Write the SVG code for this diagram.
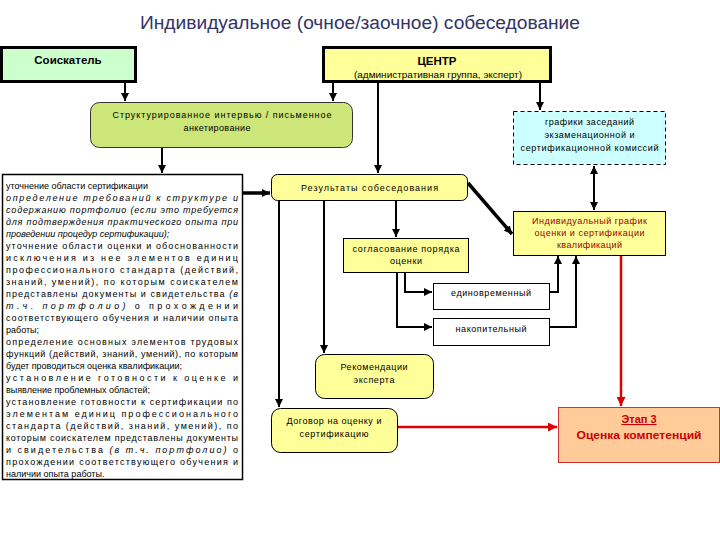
<svg xmlns="http://www.w3.org/2000/svg" width="720" height="540" viewBox="0 0 720 540">
<style>
text{font-family:"Liberation Sans",Arial,sans-serif;fill:#000}
.title{font-size:18px;fill:#333366}
.b{font-weight:bold}
.s{font-size:9px}
.c{text-anchor:middle}
.i{font-style:italic}
.thick{stroke:#000;stroke-width:3;fill:#fff}
.thin{stroke:#000;stroke-width:1}
.yel{fill:#ffff99}
.con{fill:none;stroke:#000;stroke-width:2}
.red{fill:none;stroke:#dd0000;stroke-width:2.5}
</style>
<defs>
<marker id="a" markerUnits="userSpaceOnUse" markerWidth="8" markerHeight="8" refX="8" refY="4" orient="auto"><path d="M0,0L8,4L0,8z" fill="#000"/></marker>
<marker id="as" markerUnits="userSpaceOnUse" markerWidth="8" markerHeight="8" refX="0" refY="4" orient="auto"><path d="M8,0L0,4L8,8z" fill="#000"/></marker>
<marker id="ar" markerUnits="userSpaceOnUse" markerWidth="9" markerHeight="9" refX="9" refY="4.5" orient="auto"><path d="M0,0L9,4.5L0,9z" fill="#dd0000"/></marker>
</defs>
<rect width="720" height="540" fill="#fff"/>
<text class="title c" x="360" y="29" textLength="440" lengthAdjust="spacingAndGlyphs">Индивидуальное (очное/заочное) собеседование</text>

<g id="connectors">
<path class="con" d="M125,82V101" marker-end="url(#a)"/>
<path class="con" d="M333,82V101" marker-end="url(#a)"/>
<path class="con" d="M378,82V173" marker-end="url(#a)"/>
<path class="con" d="M540,82V110" marker-end="url(#a)"/>
<path class="con" d="M162,148V173" marker-end="url(#a)"/>
<path class="con" style="stroke-width:3.5" d="M243,193H270" marker-end="url(#a)"/>
<path class="con" d="M279,201V407" marker-end="url(#a)"/>
<path class="con" d="M324,201V353" marker-end="url(#a)"/>
<path class="con" d="M396,201V237" marker-end="url(#a)"/>
<path class="con" style="stroke-width:3.5" d="M468,183L512,234" marker-end="url(#a)"/>
<path class="con" d="M405,273V292H432" marker-end="url(#a)"/>
<path class="con" d="M397,273V327H432" marker-end="url(#a)"/>
<path class="con" d="M549,292H558V256" marker-end="url(#a)"/>
<path class="con" d="M549,327H576V256" marker-end="url(#a)"/>
<path class="con" d="M594,166V210" marker-start="url(#as)" marker-end="url(#a)"/>
<path class="red" d="M621,255V406" marker-end="url(#ar)"/>
<path class="red" d="M397,427H557" marker-end="url(#ar)"/>
</g>

<g id="soiskatel">
<rect x="1.5" y="47.5" width="134" height="34" fill="#ccffcc" stroke="#000" stroke-width="3"/>
<text class="b c" x="68" y="64" font-size="11.5">Соискатель</text>
</g>

<g id="centr">
<rect x="323.5" y="47.5" width="227" height="34" fill="#ffff99" stroke="#000" stroke-width="3"/>
<text class="b c" x="437" y="65" font-size="11.5">ЦЕНТР</text>
<text class="s c" x="438" y="78" font-size="8.5" textLength="168" lengthAdjust="spacingAndGlyphs">(административная группа, эксперт)</text>
</g>

<g id="structured">
<rect x="90.5" y="102.5" width="262" height="45" rx="9" fill="#cce67a" stroke="#333" stroke-width="1"/>
<text class="s c" x="222" y="118" textLength="219" lengthAdjust="spacing">Структурированное интервью / письменное</text>
<text class="s c" x="217" y="131" textLength="67" lengthAdjust="spacing">анкетирование</text>
</g>

<g id="grafiki">
<rect x="513.5" y="111.5" width="152" height="53" fill="#ccffff" stroke="#000" stroke-width="1" stroke-dasharray="4,3"/>
<text class="s c" x="589.5" y="125" textLength="89" lengthAdjust="spacing">графики заседаний</text>
<text class="s c" x="589.5" y="138" textLength="90" lengthAdjust="spacing">экзаменационной и</text>
<text class="s c" x="589.5" y="151" textLength="138" lengthAdjust="spacing">сертификационной комиссий</text>
</g>

<g id="textbox">
<rect x="2.5" y="174.5" width="240" height="305" fill="#fff" stroke="#000" stroke-width="1.5"/>
<g class="s">
<text x="6" y="189">уточнение области сертификации</text>
<text x="6" y="201" class="i" textLength="232" lengthAdjust="spacing">определение требований к структуре и</text>
<text x="6" y="213" class="i" textLength="232" lengthAdjust="spacing">содержанию портфолио (если это требуется</text>
<text x="6" y="225" class="i" textLength="232" lengthAdjust="spacing">для подтверждения практического опыта при</text>
<text x="6" y="237" class="i">проведении процедур сертификации);</text>
<text x="6" y="249" textLength="232" lengthAdjust="spacing">уточнение области оценки и обоснованности</text>
<text x="6" y="261" textLength="232" lengthAdjust="spacing">исключения из нее элементов единиц</text>
<text x="6" y="273" textLength="232" lengthAdjust="spacing">профессионального стандарта (действий,</text>
<text x="6" y="285" textLength="232" lengthAdjust="spacing">знаний, умений), по которым соискателем</text>
<text x="6" y="297" textLength="232" lengthAdjust="spacing">представлены документы и свидетельства <tspan class="i">(в</tspan></text>
<text x="6" y="309" textLength="232" lengthAdjust="spacing"><tspan class="i">т.ч. портфолио)</tspan> о прохождении</text>
<text x="6" y="321" textLength="232" lengthAdjust="spacing">соответствующего обучения и наличии опыта</text>
<text x="6" y="333">работы;</text>
<text x="6" y="345" textLength="232" lengthAdjust="spacing">определение основных элементов трудовых</text>
<text x="6" y="357" textLength="232" lengthAdjust="spacing">функций (действий, знаний, умений), по которым</text>
<text x="6" y="369">будет проводиться оценка квалификации;</text>
<text x="6" y="381" textLength="232" lengthAdjust="spacing">установление готовности к оценке и</text>
<text x="6" y="393">выявление проблемных областей;</text>
<text x="6" y="405" textLength="232" lengthAdjust="spacing">установление готовности к сертификации по</text>
<text x="6" y="417" textLength="232" lengthAdjust="spacing">элементам единиц профессионального</text>
<text x="6" y="429" textLength="232" lengthAdjust="spacing">стандарта (действий, знаний, умений), по</text>
<text x="6" y="441" textLength="232" lengthAdjust="spacing">которым соискателем представлены документы</text>
<text x="6" y="453" textLength="232" lengthAdjust="spacing">и свидетельства <tspan class="i">(в т.ч. портфолио)</tspan> о</text>
<text x="6" y="465" textLength="232" lengthAdjust="spacing">прохождении соответствующего обучения и</text>
<text x="6" y="477">наличии опыта работы.</text>
</g>
</g>

<g id="rezultaty">
<rect x="271.5" y="174.5" width="196" height="26" rx="6" class="yel thin"/>
<text class="s c" x="369.5" y="191" textLength="137" lengthAdjust="spacing">Результаты собеседования</text>
</g>

<g id="soglasovanie">
<rect x="343.5" y="238.5" width="125" height="34" class="yel thin"/>
<text class="s c" x="406" y="252" textLength="107" lengthAdjust="spacing">согласование порядка</text>
<text class="s c" x="406" y="264" textLength="32" lengthAdjust="spacing">оценки</text>
</g>

<g id="individ">
<rect x="513.5" y="211.5" width="152" height="44" class="yel thin"/>
<text class="s c" x="589.5" y="224" textLength="115" lengthAdjust="spacing" style="fill:#990000">Индивидуальный график</text>
<text class="s c" x="589.5" y="236" textLength="110" lengthAdjust="spacing" style="fill:#990000">оценки и сертификации</text>
<text class="s c" x="589.5" y="248" textLength="65" lengthAdjust="spacing" style="fill:#990000">квалификаций</text>
</g>

<g id="edinovr">
<rect x="433.5" y="283.5" width="116" height="26" fill="#fff" class="thin"/>
<text class="s c" x="491" y="296" textLength="80" lengthAdjust="spacing">единовременный</text>
</g>

<g id="nakop">
<rect x="433.5" y="318.5" width="116" height="27" fill="#fff" class="thin"/>
<text class="s c" x="491" y="332" textLength="71" lengthAdjust="spacing">накопительный</text>
</g>

<g id="rekomend">
<rect x="315.5" y="354.5" width="118" height="44" rx="9" class="yel thin"/>
<text class="s c" x="374" y="370" textLength="67" lengthAdjust="spacing">Рекомендации</text>
<text class="s c" x="374" y="383" textLength="41" lengthAdjust="spacing">эксперта</text>
</g>

<g id="dogovor">
<rect x="271.5" y="408.5" width="126" height="44" rx="9" class="yel thin"/>
<text class="s c" x="334" y="424" textLength="95" lengthAdjust="spacing">Договор на оценку и</text>
<text class="s c" x="334" y="437" textLength="69" lengthAdjust="spacing">сертификацию</text>
</g>

<g id="etap3">
<rect x="558.5" y="407.5" width="161" height="55" fill="#ffcc99" stroke="#cc3333" stroke-width="1"/>
<text class="b c" x="639" y="423" font-size="11" style="fill:#cc0000;text-decoration:underline">Этап 3</text>
<text class="b c" x="639" y="439" font-size="11" style="fill:#cc0000" textLength="125" lengthAdjust="spacingAndGlyphs">Оценка компетенций</text>
</g>
</svg>
